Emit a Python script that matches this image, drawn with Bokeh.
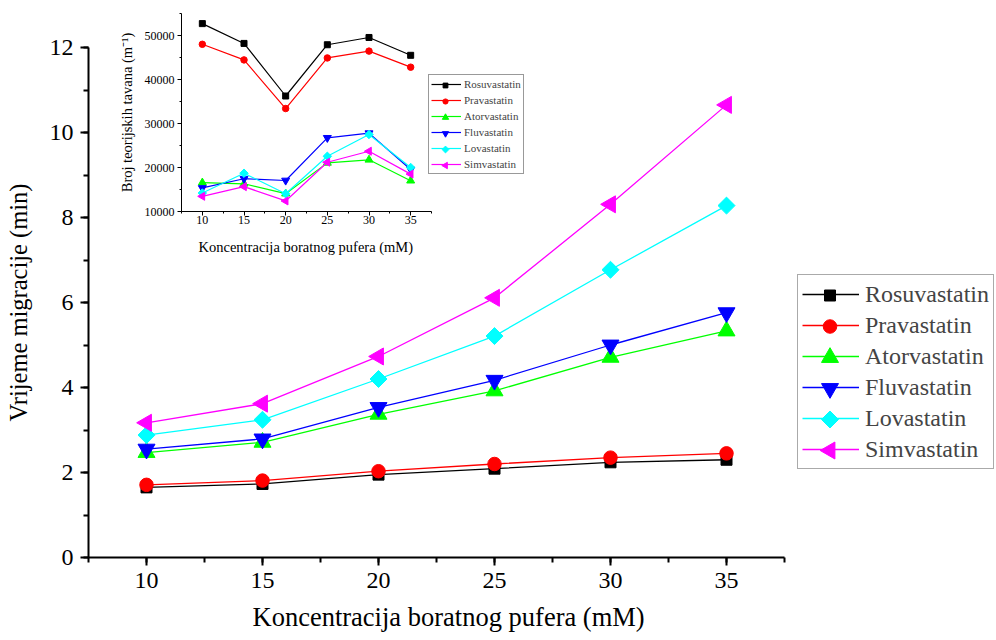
import math
from bokeh.plotting import figure
from bokeh.models import Legend, LegendItem, SingleIntervalTicker, Title
from bokeh.layouts import column
from bokeh.embed import file_html
from bokeh.resources import INLINE

# ---------------- data ----------------
conc = [10, 15, 20, 25, 30, 35]
names = ["Rosuvastatin", "Pravastatin", "Atorvastatin", "Fluvastatin", "Lovastatin", "Simvastatin"]
colors = ["#000000", "#ff0000", "#00ff00", "#0000ff", "#00ffff", "#ff00ff"]

# migration time (min) - main chart
rosu_time = [1.65, 1.73, 1.95, 2.09, 2.24, 2.30]
prava_time = [1.71, 1.81, 2.03, 2.20, 2.35, 2.45]
atorva_time = [2.47, 2.71, 3.37, 3.92, 4.71, 5.33]
fluva_time = [2.55, 2.79, 3.53, 4.17, 5.00, 5.76]
lova_time = [2.88, 3.24, 4.20, 5.21, 6.77, 8.28]
simva_time = [3.17, 3.62, 4.73, 6.11, 8.31, 10.65]

# number of theoretical plates (m^-1) - inset
rosu_N = [52700, 48200, 36250, 47900, 49550, 45500]
prava_N = [48000, 44450, 33400, 44900, 46450, 42800]
atorva_N = [16550, 16300, 14050, 21050, 21750, 17000]
fluva_N = [15350, 17450, 17050, 26750, 27800, 19550]
lova_N = [14200, 18700, 14050, 22550, 27500, 20000]
simva_N = [13450, 15650, 12400, 21200, 23700, 18500]

time_series = [rosu_time, prava_time, atorva_time, fluva_time, lova_time, simva_time]
plate_series = [rosu_N, prava_N, atorva_N, fluva_N, lova_N, simva_N]

x_label = "Koncentracija boratnog pufera (mM)"
y_label = "Vrijeme migracije (min)"
inset_y_label = "Broj teorijskih tavana (m\u207b\u00b9)"

# ---------------- styles / layout constants ----------------
markers = [("square", 0), ("circle", 0), ("triangle", 0), ("inverted_triangle", 0),
           ("square", math.pi / 4), ("triangle", math.pi / 2)]
main_sizes = [11, 13.5, 17, 17, 12, 17]
inset_sizes = [6, 6.5, 8, 8, 6, 8]
FONT = "Liberation Serif"
W, H = 996, 640

X_LO, X_HI_AXIS = 7.5, 37.5

# main frame (px)
M_LEFT, M_AXIS_RIGHT, M_TOP, M_BOTTOM = 88, 784, 47, 557
m_pxu_x = (M_AXIS_RIGHT - M_LEFT) / (X_HI_AXIS - X_LO)
m_x_hi = X_LO + (W - M_LEFT) / m_pxu_x
Y_LO, Y_HI = 0, 12
m_pxu_y = (M_BOTTOM - M_TOP) / (Y_HI - Y_LO)

# inset frame (px)
I_LEFT, I_AXIS_RIGHT, I_TOP, I_BOTTOM, I_FRAME_RIGHT = 181, 431, 13, 211, 540
i_pxu_x = (I_AXIS_RIGHT - I_LEFT) / (X_HI_AXIS - X_LO)
i_x_hi = X_LO + (I_FRAME_RIGHT - I_LEFT) / i_pxu_x
IY_LO, IY_HI = 10000, 55000
i_pxu_y = (I_BOTTOM - I_TOP) / (IY_HI - IY_LO)


def style_axis(ax, lw, tick_out, minor_out, label_size):
    ax.axis_line_width = lw
    ax.major_tick_line_width = lw
    ax.minor_tick_line_width = lw
    ax.major_tick_in = 0
    ax.minor_tick_in = 0
    ax.major_tick_out = tick_out
    ax.minor_tick_out = minor_out
    ax.major_label_text_font = FONT
    ax.major_label_text_font_size = label_size
    ax.major_label_text_color = "black"
    ax.axis_label_text_font = FONT
    ax.axis_label_text_font_style = "normal"
    ax.axis_label_text_color = "black"


def legend_marker_positions(pxu_x, pxu_y, y_lo, loc, pad, gw, ih, sp, n):
    lh = 2 * pad + n * ih + (n - 1) * sp
    cx = X_LO + (loc[0] + pad + gw / 2) / pxu_x
    cys = [y_lo + (loc[1] + lh - pad - ih / 2 - i * (ih + sp)) / pxu_y for i in range(n)]
    return cx, cys


# ---------------- main figure ----------------
p = figure(width=W, height=H, x_range=(X_LO, m_x_hi), y_range=(Y_LO, Y_HI),
           output_backend="svg", toolbar_location=None,
           min_border_left=M_LEFT, min_border_right=0, min_border_top=M_TOP,
           min_border_bottom=H - M_BOTTOM)
p.grid.visible = False
p.outline_line_color = None

p.xaxis.ticker = SingleIntervalTicker(interval=5, num_minor_ticks=2)
p.yaxis.ticker = SingleIntervalTicker(interval=2, num_minor_ticks=2)
p.xaxis.bounds = (X_LO, X_HI_AXIS)
style_axis(p.xaxis, 2, 8, 5, "24px")
style_axis(p.yaxis, 2, 8, 5, "24px")
p.xaxis.major_label_standoff = 7
p.yaxis.axis_label = y_label
p.yaxis.axis_label_text_font_size = "24.5px"
p.yaxis.major_label_standoff = 7
p.yaxis.axis_label_standoff = 15
p.add_layout(Title(text=x_label, align="left", offset=164, standoff=18,
                   text_font=FONT, text_font_size="26.5px", text_font_style="normal",
                   text_color="black"), "below")

M_LEG_LOC, M_PAD, M_GW, M_IH, M_SP = (709, 88), 4, 57, 30, 1
items = []
for name, col, ys, (mk, ang), sz in zip(names, colors, time_series, markers, main_sizes):
    lr = p.line(conc, ys, line_color=col, line_width=1.3)
    p.scatter(conc, ys, marker=mk, angle=ang, size=sz, fill_color=col, line_color=col)
    items.append(LegendItem(label=name, renderers=[lr]))

# legend symbols (so rotated markers show correctly), drawn under a transparent legend
lx, lys = legend_marker_positions(m_pxu_x, m_pxu_y, Y_LO, M_LEG_LOC, M_PAD, M_GW, M_IH, M_SP, len(names))
for col, ly, (mk, ang), sz in zip(colors, lys, markers, main_sizes):
    p.scatter([lx], [ly], marker=mk, angle=ang, size=sz, fill_color=col, line_color=col)

leg = Legend(items=items, location=M_LEG_LOC, padding=M_PAD, spacing=M_SP, margin=0,
             glyph_width=M_GW, glyph_height=M_IH, label_height=M_IH, label_standoff=6,
             label_text_font=FONT, label_text_font_size="24px",
             border_line_color="#555555", border_line_width=1.5,
             background_fill_alpha=0)
p.add_layout(leg)

# ---------------- inset figure (overlaid via negative margin) ----------------
q = figure(width=W, height=H, x_range=(X_LO, i_x_hi), y_range=(IY_LO, IY_HI),
           output_backend="svg", toolbar_location=None,
           min_border_left=I_LEFT, min_border_right=W - I_FRAME_RIGHT, min_border_top=I_TOP,
           min_border_bottom=H - I_BOTTOM)
q.grid.visible = False
q.outline_line_color = None
q.background_fill_alpha = 0
q.border_fill_alpha = 0

q.xaxis.ticker = SingleIntervalTicker(interval=5, num_minor_ticks=2)
q.yaxis.ticker = SingleIntervalTicker(interval=10000, num_minor_ticks=2)
q.xaxis.bounds = (X_LO, X_HI_AXIS)
style_axis(q.xaxis, 1, 4, 2, "12px")
style_axis(q.yaxis, 1, 4, 2, "12px")
q.xaxis.major_label_standoff = 0
q.yaxis.axis_label = inset_y_label
q.yaxis.axis_label_text_font_size = "14.5px"
q.yaxis.major_label_standoff = 3
q.yaxis.axis_label_standoff = 7
q.add_layout(Title(text=x_label, align="left", offset=17, standoff=21,
                   text_font=FONT, text_font_size="14.5px", text_font_style="normal",
                   text_color="black"), "below")

I_LEG_LOC, I_PAD, I_GW, I_IH, I_SP = (247, 37), 2, 30, 14, 2
qitems = []
for name, col, ys, (mk, ang), sz in zip(names, colors, plate_series, markers, inset_sizes):
    lr = q.line(conc, ys, line_color=col, line_width=1.2)
    q.scatter(conc, ys, marker=mk, angle=ang, size=sz, fill_color=col, line_color=col)
    qitems.append(LegendItem(label=name, renderers=[lr]))

qlx, qlys = legend_marker_positions(i_pxu_x, i_pxu_y, IY_LO, I_LEG_LOC, I_PAD, I_GW, I_IH, I_SP, len(names))
for col, ly, (mk, ang), sz in zip(colors, qlys, markers, inset_sizes):
    q.scatter([qlx], [ly], marker=mk, angle=ang, size=sz * 0.8, fill_color=col, line_color=col)

qleg = Legend(items=qitems, location=I_LEG_LOC, padding=I_PAD, spacing=I_SP, margin=0,
              glyph_width=I_GW, glyph_height=I_IH, label_height=I_IH, label_standoff=3,
              label_text_font=FONT, label_text_font_size="11px",
              border_line_color="#333333", border_line_width=1.2,
              background_fill_alpha=0)
q.add_layout(qleg)

inset_box = column(q, width=W, height=H, sizing_mode="fixed", margin=(-H, 0, 0, 0))
layout = column(p, inset_box, width=W, height=H, sizing_mode="fixed")

with open("out.html", "w") as f:
    f.write(file_html(layout, INLINE))
